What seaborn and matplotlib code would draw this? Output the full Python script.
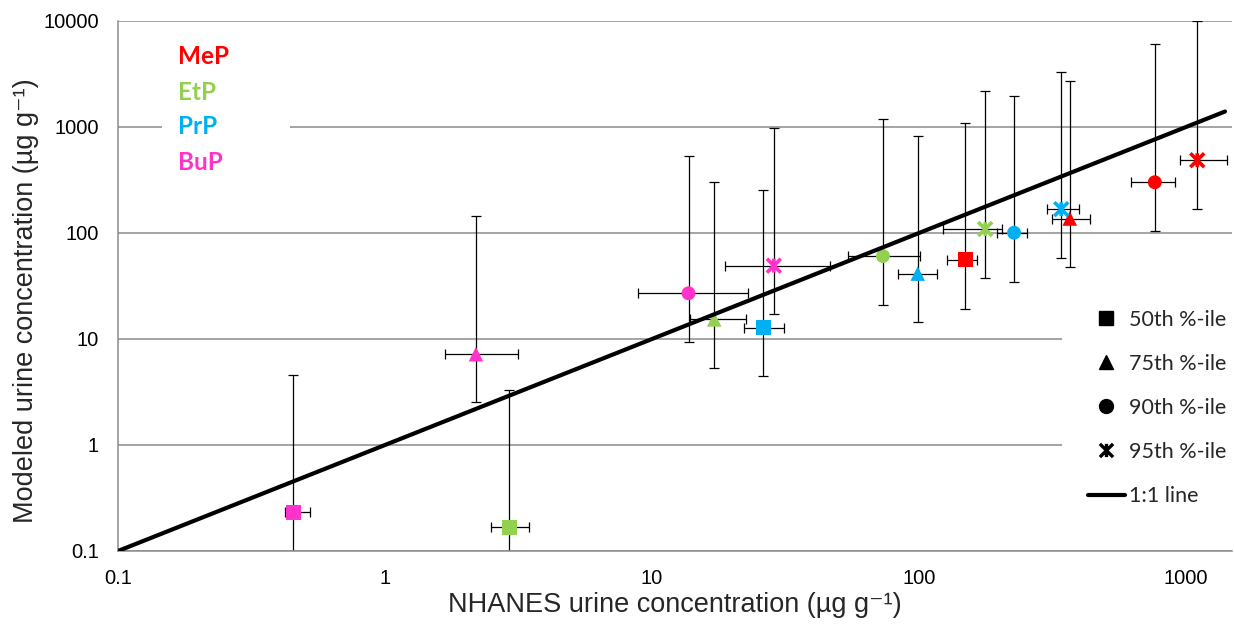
import numpy as np
import pandas as pd
import matplotlib
matplotlib.use("Agg")
import matplotlib.pyplot as plt
from matplotlib.path import Path
from matplotlib.lines import Line2D
from matplotlib.patches import Rectangle
import seaborn as sns

# ---------------- data ----------------
compounds = ["MeP", "EtP", "PrP", "BuP"]
percentiles = ["50th", "75th", "90th", "95th"]
colors = ["#FF0000", "#92D050", "#00B0F0", "#FF33CC"]

# NHANES (x) central values and ranges, per compound in percentile order
nhanes_MeP = [149, 367, 764, 1102]
nhanes_MeP_lo = [127, 314, 621, 951]
nhanes_MeP_hi = [165, 437, 912, 1426]
nhanes_EtP = [2.92, 17.1, 73.3, 177]
nhanes_EtP_lo = [2.50, 13.9, 54.3, 123]
nhanes_EtP_hi = [3.46, 22.4, 100.9, 205]
nhanes_PrP = [26.1, 98.9, 227, 341]
nhanes_PrP_lo = [22.1, 83.4, 196, 301]
nhanes_PrP_hi = [31.2, 116.7, 253, 397]
nhanes_BuP = [0.454, 2.19, 13.7, 28.6]
nhanes_BuP_lo = [0.423, 1.683, 8.89, 18.7]
nhanes_BuP_hi = [0.525, 3.14, 22.9, 46.6]

# Modeled (y) central values and ranges
model_MeP = [56.0, 137, 301, 486]
model_MeP_lo = [19.1, 47.8, 103.5, 170]
model_MeP_hi = [1092, 2735, 6010, 9900]
model_EtP = [0.168, 15.3, 60.6, 109]
model_EtP_lo = [0.01, 5.27, 20.8, 37.9]
model_EtP_hi = [3.27, 304, 1192, 2188]
model_PrP = [12.8, 41.4, 100.6, 168]
model_PrP_lo = [4.46, 14.4, 34.8, 57.7]
model_PrP_hi = [254, 824, 1977, 3273]
model_BuP = [0.232, 7.19, 27.0, 49.2]
model_BuP_lo = [0.01, 2.52, 9.27, 17.1]
model_BuP_hi = [4.53, 144, 530, 972]

one_to_one = [0.1, 1400]

x_ticks = [0.1, 1, 10, 100, 1000]
x_ticklabels = ["0.1", "1", "10", "100", "1000"]
y_ticks = [0.1, 1, 10, 100, 1000, 10000]
y_ticklabels = ["0.1", "1", "10", "100", "1000", "10000"]

# ---------------- build table ----------------
rows = []
src = {
    "MeP": (nhanes_MeP, nhanes_MeP_lo, nhanes_MeP_hi, model_MeP, model_MeP_lo, model_MeP_hi),
    "EtP": (nhanes_EtP, nhanes_EtP_lo, nhanes_EtP_hi, model_EtP, model_EtP_lo, model_EtP_hi),
    "PrP": (nhanes_PrP, nhanes_PrP_lo, nhanes_PrP_hi, model_PrP, model_PrP_lo, model_PrP_hi),
    "BuP": (nhanes_BuP, nhanes_BuP_lo, nhanes_BuP_hi, model_BuP, model_BuP_lo, model_BuP_hi),
}
for c in compounds:
    xs, xl, xh, ys, yl, yh = src[c]
    for i, p in enumerate(percentiles):
        rows.append(dict(compound=c, pct=p, x=xs[i], xlo=xl[i], xhi=xh[i],
                         y=ys[i], ylo=yl[i], yhi=yh[i]))
df = pd.DataFrame(rows)
palette = dict(zip(compounds, colors))

# ---------------- figure ----------------
sns.set_style("white")
plt.rcParams["font.family"] = ["Liberation Sans", "DejaVu Sans"]

W, H = 1234, 633
fig = plt.figure(figsize=(W / 100, H / 100), dpi=100)
L, R, T, B = 118, 1232, 21, 551
AW, AH = R - L, B - T
ax = fig.add_axes([L / W, 1 - B / H, AW / W, AH / H])
ax.set_xscale("log")
ax.set_yscale("log")
ax.set_xlim(0.1, 10 ** (AW / 267.0 - 1))
ax.set_ylim(0.1, 10000)

# grid
ax.yaxis.grid(True, color="#8c8c8c", linewidth=1.1)
ax.xaxis.grid(False)
ax.set_axisbelow(True)

# error bars
ax.errorbar(df["x"], df["y"],
            xerr=[df["x"] - df["xlo"], df["xhi"] - df["x"]],
            yerr=[df["y"] - df["ylo"], df["yhi"] - df["y"]],
            fmt="none", ecolor="black", elinewidth=0.9, capsize=3.3,
            capthick=0.9, zorder=2)

# markers
star = Path([(-1, -1), (1, 1), (-1, 1), (1, -1), (0, -1), (0, 1)],
            [Path.MOVETO, Path.LINETO, Path.MOVETO, Path.LINETO, Path.MOVETO, Path.LINETO])
marker_specs = {"50th": ("s", 118), "75th": ("^", 110), "90th": ("o", 100)}
for p, (m, s) in marker_specs.items():
    sns.scatterplot(data=df[df["pct"] == p], x="x", y="y", hue="compound",
                    palette=palette, marker=m, s=s, edgecolor="none",
                    legend=False, ax=ax, zorder=3)
sns.scatterplot(data=df[df["pct"] == "95th"], x="x", y="y", hue="compound",
                palette=palette, marker=star, s=100, edgecolor="face",
                linewidth=2.6, legend=False, ax=ax, zorder=3)

# 1:1 line
sns.lineplot(x=one_to_one, y=one_to_one, color="black", linewidth=3.0, ax=ax, zorder=4)

# axes styling
for s in ["top", "right"]:
    ax.spines[s].set_visible(False)
for s in ["left", "bottom"]:
    ax.spines[s].set_color("#8c8c8c")
    ax.spines[s].set_linewidth(1.1)
ax.set_xticks(x_ticks)
ax.set_xticklabels(x_ticklabels)
ax.set_yticks(y_ticks)
ax.set_yticklabels(y_ticklabels)
ax.minorticks_off()
ax.tick_params(axis="x", direction="out", length=4.5, width=1.1, color="#8c8c8c",
               labelsize=14.5, pad=8.5, labelcolor="black")
ax.tick_params(axis="y", direction="inout", length=10.8, width=1.1, color="#8c8c8c",
               labelsize=14.5, pad=8.5, labelcolor="black")

ax.set_xlabel("NHANES urine concentration (µg g⁻¹)", fontsize=19.5)
ax.set_ylabel("Modeled urine concentration (µg g⁻¹)", fontsize=19.5)
ax.xaxis.label.set_va("baseline")
ax.yaxis.label.set_va("baseline")
ax.xaxis.set_label_coords(0.5, -(612 - B) / AH)
ax.yaxis.set_label_coords(-(L - 33) / AW, 1 - (301 - T) / AH)

# left compound key (white box covering gridline)
ax.add_patch(Rectangle(((162 - L) / AW, 1 - (180 - T) / AH), (290 - 162) / AW, 145 / AH,
                       transform=ax.transAxes, facecolor="white", edgecolor="none", zorder=1))
key_y = [57, 93, 127, 162]
for c, col, yy in zip(compounds, colors, key_y):
    ax.text((178 - L) / AW, 1 - (yy - T) / AH, c, color=col,
            fontsize=17.5, fontweight="bold", family=["Lato", "DejaVu Sans"],
            va="center", ha="left", transform=ax.transAxes, zorder=5)

# right percentile legend (white area covering gridlines)
ax.add_patch(Rectangle(((1062 - L) / AW, 1 - (520 - T) / AH), (R - 1062) / AW, 225 / AH,
                       transform=ax.transAxes, facecolor="white", edgecolor="none", zorder=1))
handles = [
    Line2D([], [], marker="s", linestyle="none", color="black", markersize=10.5),
    Line2D([], [], marker="^", linestyle="none", color="black", markersize=10),
    Line2D([], [], marker="o", linestyle="none", color="black", markersize=10),
    Line2D([], [], marker=star, linestyle="none", color="black", markersize=9.5,
           markeredgewidth=2.4),
    Line2D([], [], color="black", linewidth=3.0),
]
labels = ["50th %-ile", "75th %-ile", "90th %-ile", "95th %-ile", "1:1 line"]
leg = ax.legend(handles, labels, loc="upper left",
                bbox_to_anchor=((1079 - L) / AW, 1 - (301 - T) / AH),
                frameon=False, prop={"family": "Lato", "size": 15.5},
                handlelength=1.75, handletextpad=0.15, labelspacing=1.12,
                borderpad=0.4, borderaxespad=0)
leg.set_zorder(6)

fig.savefig("out.png", dpi=100)
